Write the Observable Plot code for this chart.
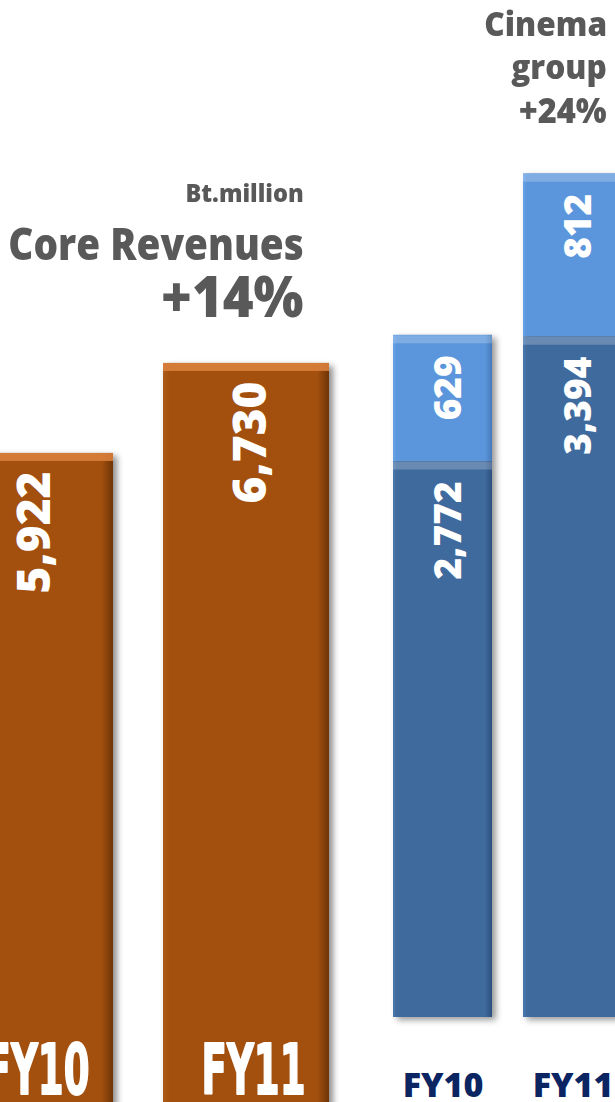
<!DOCTYPE html>
<html><head><meta charset="utf-8">
<script src="https://cdn.jsdelivr.net/npm/d3@7"></script>
<script src="https://cdn.jsdelivr.net/npm/@observablehq/plot@0.6"></script>
<style>
html,body{margin:0;padding:0;background:#fff;}
#wrap{position:relative;width:615px;height:1102px;overflow:hidden;font-family:"Open Sans",sans-serif;}
#wrap svg{position:absolute;left:0;top:0;background:transparent;}
.t{position:absolute;font-weight:800;color:#595959;white-space:nowrap;line-height:0.8;transform-origin:right center;font-family:"Open Sans",sans-serif;}
</style></head><body><div id="wrap"></div>
<script>
// ---- data ----
const years = ["FY10", "FY11"];
const coreRevenue = [5922, 6730];
const cinemaSegments = ["Lower segment", "Upper segment"];
const cinemaLower = [2772, 3394];
const cinemaUpper = [629, 812];
const coreTitle = ["Bt.million", "Core Revenues", "+14%"];
const cinemaTitle = ["Cinema", "group", "+24%"];

const fmt = d3.format(",");
const core = years.map((y, i) => ({year: y, value: coreRevenue[i]}));
const cinema = [];
years.forEach((y, i) => {
  cinema.push({year: y, segment: cinemaSegments[0], value: cinemaLower[i]});
  cinema.push({year: y, segment: cinemaSegments[1], value: cinemaUpper[i]});
});

function addGrad(svg, id, stops) {
  let defs = svg.querySelector("defs");
  if (!defs) defs = d3.select(svg).insert("defs", ":first-child").node();
  const g = d3.select(defs).append("linearGradient").attr("id", id)
    .attr("x1", 0).attr("x2", 1).attr("y1", 0).attr("y2", 0);
  stops.forEach(([o, c]) => g.append("stop").attr("offset", o).attr("stop-color", c));
}

// ---- Core revenues (orange) ----
const yBaseA = 1112.6, kA = 0.11139;
const plotA = Plot.plot({
  width: 615, height: 1102, margin: 0,
  x: {domain: years, range: [-54, 330], paddingInner: 0.23, paddingOuter: 0, axis: null},
  y: {domain: [0, 7000], range: [yBaseA, yBaseA - kA * 7000], axis: null},
  marks: [
    Plot.barY(core, {x: "year", y: "value", fill: "url(#gOrange)"}),
    Plot.barY(core, {x: "year", y1: "value", y2: "value", insetBottom: -8, fill: "#D9803C", fillOpacity: 0.9}),
    Plot.text(core, {x: "year", y: "value", text: d => fmt(d.value), rotate: -90, textAnchor: "end",
      dy: 18, dx: 5, fill: "white", fontSize: 46, fontWeight: 800, fontFamily: "Open Sans"}),
    Plot.text(core, {x: "year", y: d => 0, text: "year", lineAnchor: "bottom", dy: -19.6, dx: 7,
      fill: "white", stroke: "white", strokeWidth: 2, fontSize: 70, fontWeight: 700, fontFamily: "DejaVu Sans Condensed"})
  ]
});
addGrad(plotA, "gOrange", [[0, "#AE5C18"], [0.04, "#A3500F"], [0.93, "#A3500F"], [1, "#6E3405"]]);
{
  const gs = plotA.querySelectorAll(":scope > g");
  gs[0].style.filter = "drop-shadow(4px 3px 3px rgba(0,0,0,0.45))";
  gs[3].querySelectorAll("text").forEach(t => {
    t.setAttribute("textLength", 104);
    t.setAttribute("lengthAdjust", "spacingAndGlyphs");
  });
}

// ---- Cinema group (blue, stacked) ----
const yBaseB = 1017, kB = 0.2006;
const plotB = Plot.plot({
  width: 615, height: 1102, margin: 0,
  x: {domain: years, range: [393, 622], paddingInner: 0.2385, paddingOuter: 0, axis: null},
  y: {domain: [0, 4500], range: [yBaseB, yBaseB - kB * 4500], axis: null},
  color: {domain: cinemaSegments, range: ["url(#gBlueDark)", "url(#gBlueLight)"]},
  marks: [
    Plot.barY(cinema, {x: "year", y: "value", fill: "segment", z: "segment", order: cinemaSegments}),
    Plot.tickY(cinema, Plot.stackY2({x: "year", y: "value", z: "segment", order: cinemaSegments,
      stroke: "white", strokeOpacity: 0.22, strokeWidth: 8, dy: 4})),
    Plot.text(cinema, Plot.stackY2({x: "year", y: "value", z: "segment", order: cinemaSegments,
      text: d => fmt(d.value), rotate: -90, textAnchor: "end", dy: 20, dx: 6,
      fill: "white", fontSize: 37, fontWeight: 800, fontFamily: "Open Sans"})),
    Plot.text(years, {x: d => d, y: d => 0, text: d => d, lineAnchor: "top", dy: 55,
      fill: "#0B2562", fontSize: 34, fontWeight: 800, fontFamily: "Open Sans"})
  ]
});
addGrad(plotB, "gBlueDark", [[0, "#4A78AE"], [0.04, "#3F6A9D"], [0.93, "#3F6A9D"], [1, "#2B4F7E"]]);
addGrad(plotB, "gBlueLight", [[0, "#68A2E6"], [0.04, "#5B96DC"], [0.93, "#5B96DC"], [1, "#4679B9"]]);
plotB.querySelectorAll(":scope > g")[0].style.filter = "drop-shadow(4px 3px 3px rgba(0,0,0,0.4))";

const wrap = document.getElementById("wrap");
wrap.appendChild(plotA);
wrap.appendChild(plotB);

// ---- titles (positioned by baseline) ----
const LH = 0.8;
function addTitle(text, right, baseline, size, sx) {
  const d = document.createElement("div");
  d.className = "t";
  d.textContent = text;
  d.style.right = right + "px";
  d.style.top = (baseline - ((LH - 1.362) / 2 + 1.069) * size) + "px";
  d.style.fontSize = size + "px";
  d.style.transform = `scaleX(${sx})`;
  wrap.appendChild(d);
}
addTitle(coreTitle[0], 311, 202, 24, 0.98);
addTitle(coreTitle[1], 311, 261, 44, 0.88);
addTitle(coreTitle[2], 311, 317, 56, 0.94);
addTitle(cinemaTitle[0], 8, 37, 34, 0.93);
addTitle(cinemaTitle[1], 8, 80, 34, 0.93);
addTitle(cinemaTitle[2], 8, 124, 35, 0.93);
</script></body></html>
